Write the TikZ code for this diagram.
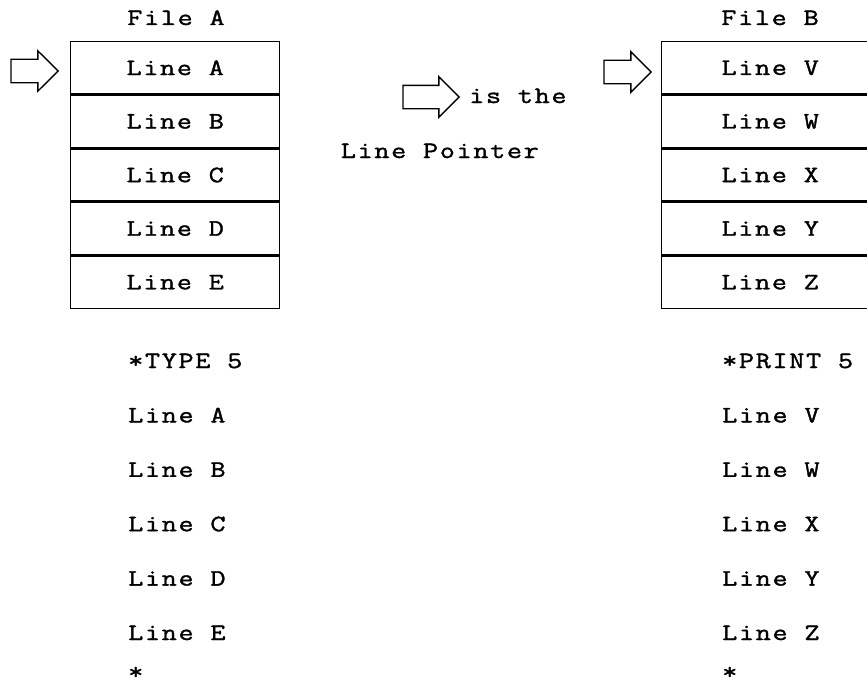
\documentclass[tikz,border=0pt]{standalone}
\usepackage{fontspec}
\setmonofont{Latin Modern Mono}[FakeStretch=1.25,LetterSpace=7,FakeBold=1.4]
\usetikzlibrary{positioning}
\usetikzlibrary{shapes.arrows}

\tikzset{
  txt/.style={font=\ttfamily\fontsize{23.5}{27}\selectfont, inner sep=0pt},
  rowbox/.style={txt, draw, line width=1.4pt, minimum height=52.2pt, minimum width=209pt},
  pointer/.style={single arrow, draw, line width=1.4pt, inner xsep=0pt, inner ysep=11pt,
    minimum width=39pt, single arrow head extend=8.5pt, minimum height=47pt}
}

\begin{document}
\begin{tikzpicture}[x=1pt,y=-1pt]
  \useasboundingbox (0,0) rectangle (867,685);

  % file A
  \node[txt, anchor=base] (fileA) at (176,25) {File A};
  \node[rowbox, anchor=north west] (a1) at (70,41) {Line A};
  \node[rowbox, below=0pt of a1] (a2) {Line B};
  \node[rowbox, below=0pt of a2] (a3) {Line C};
  \node[rowbox, below=0pt of a3] (a4) {Line D};
  \node[rowbox, below=0pt of a4] (a5) {Line E};
  \node[pointer, anchor=tip] (ptrA) at (59,71) {};

  % file B
  \node[txt, anchor=base] (fileB) at (770,25) {File B};
  \node[rowbox, minimum width=217pt, anchor=north west] (b1) at (661,41) {Line V};
  \node[rowbox, minimum width=217pt, below=0pt of b1] (b2) {Line W};
  \node[rowbox, minimum width=217pt, below=0pt of b2] (b3) {Line X};
  \node[rowbox, minimum width=217pt, below=0pt of b3] (b4) {Line Y};
  \node[rowbox, minimum width=217pt, below=0pt of b4] (b5) {Line Z};
  \node[pointer, anchor=tip] (ptrB) at (652,72) {};

  % legend
  \node[pointer, minimum height=56pt, anchor=tip] (ptrL) at (460,97) {};
  \node[txt, anchor=base west] (isthe) at (469,103) {is the};
  \node[txt, anchor=base east] (lp) at (539,158) {Line Pointer};

  % typed output
  \foreach \t [count=\i] in {*TYPE 5,Line A,Line B,Line C,Line D,Line E}
    \node[txt, anchor=base west] (ta\i) at (128,368+54.4*\i-54.4) {\t};
  \node[txt, anchor=west] (ta7) at (128,673) {*};
  \foreach \t [count=\i] in {*PRINT 5,Line V,Line W,Line X,Line Y,Line Z}
    \node[txt, anchor=base west] (tb\i) at (722,368+54.4*\i-54.4) {\t};
  \node[txt, anchor=west] (tb7) at (722,673) {*};
\end{tikzpicture}
\end{document}
